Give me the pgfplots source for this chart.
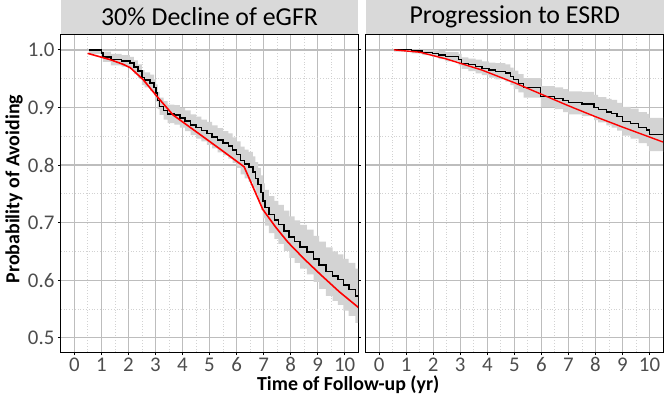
\documentclass[border=0pt]{standalone}
\usepackage{fontspec}
\setmainfont{Carlito}
\usepackage{pgfplots}
\pgfplotsset{compat=1.18}
\usepgfplotslibrary{fillbetween}
\usepackage{pgfplotstable}
\definecolor{gridmaj}{HTML}{BDBDBD}
\definecolor{gridmin}{HTML}{D2D2D2}
\definecolor{tickgray}{HTML}{4D4D4D}
\definecolor{bandgray}{HTML}{D3D3D3}
\definecolor{stripgray}{HTML}{D9D9D9}

\pgfplotstableread{
t s lo hi
0.55 1.000 0.993 1.000
1.00 0.995 0.988 1.000
1.05 0.988 0.979 0.997
1.35 0.983 0.973 0.993
1.75 0.981 0.971 0.991
2.05 0.977 0.966 0.988
2.20 0.970 0.958 0.982
2.35 0.963 0.951 0.975
2.50 0.952 0.939 0.965
2.60 0.948 0.935 0.961
2.80 0.943 0.929 0.957
2.95 0.935 0.921 0.949
3.02 0.925 0.910 0.940
3.08 0.912 0.897 0.927
3.15 0.902 0.887 0.917
3.30 0.895 0.879 0.911
3.45 0.889 0.873 0.905
3.70 0.887 0.870 0.904
3.90 0.882 0.865 0.899
4.10 0.877 0.859 0.895
4.30 0.870 0.852 0.888
4.50 0.865 0.846 0.884
4.70 0.860 0.841 0.879
4.90 0.855 0.835 0.875
5.10 0.849 0.829 0.869
5.30 0.843 0.822 0.864
5.50 0.838 0.817 0.859
5.70 0.833 0.811 0.855
5.85 0.826 0.804 0.848
6.00 0.818 0.795 0.841
6.15 0.808 0.784 0.832
6.30 0.802 0.777 0.827
6.45 0.797 0.771 0.823
6.60 0.788 0.761 0.815
6.70 0.777 0.749 0.805
6.80 0.766 0.737 0.795
6.90 0.752 0.722 0.782
6.97 0.738 0.708 0.768
7.05 0.726 0.695 0.757
7.20 0.714 0.682 0.746
7.40 0.705 0.672 0.738
7.55 0.697 0.663 0.731
7.75 0.686 0.651 0.721
7.95 0.675 0.639 0.711
8.15 0.667 0.630 0.704
8.35 0.658 0.620 0.696
8.60 0.649 0.610 0.688
8.85 0.637 0.597 0.677
9.05 0.626 0.585 0.667
9.30 0.615 0.573 0.657
9.55 0.607 0.564 0.650
9.75 0.601 0.557 0.645
9.95 0.592 0.547 0.637
10.15 0.584 0.538 0.630
10.40 0.573 0.526 0.620
10.50 0.573 0.526 0.620
}\leftkm

\pgfplotstableread{
t s
0.49 0.994
1.33 0.983
1.80 0.975
2.07 0.969
2.55 0.948
3.06 0.919
3.65 0.887
4.65 0.853
5.50 0.824
6.28 0.797
6.97 0.723
7.45 0.692
7.90 0.666
8.50 0.637
9.08 0.611
9.80 0.580
10.50 0.553
}\leftfit

\pgfplotstableread{
t s lo hi
0.55 1.000 0.997 1.000
1.20 0.998 0.994 1.000
1.60 0.996 0.991 1.000
1.96 0.994 0.988 1.000
2.20 0.991 0.984 0.998
2.45 0.988 0.980 0.996
2.94 0.983 0.973 0.993
3.05 0.977 0.967 0.987
3.30 0.974 0.963 0.985
3.57 0.971 0.959 0.983
3.80 0.968 0.956 0.980
4.06 0.965 0.952 0.978
4.30 0.963 0.949 0.977
4.67 0.960 0.945 0.975
4.85 0.954 0.939 0.969
4.97 0.948 0.932 0.964
5.15 0.942 0.926 0.958
5.34 0.934 0.917 0.951
5.98 0.919 0.901 0.937
6.50 0.916 0.897 0.935
6.80 0.912 0.892 0.932
7.00 0.908 0.888 0.928
7.50 0.906 0.885 0.927
7.95 0.900 0.878 0.922
8.10 0.896 0.874 0.918
8.40 0.892 0.869 0.915
8.60 0.889 0.865 0.913
8.80 0.884 0.860 0.908
9.00 0.876 0.851 0.901
9.30 0.872 0.846 0.898
9.60 0.865 0.838 0.892
9.90 0.861 0.833 0.889
10.00 0.853 0.824 0.882
10.50 0.853 0.823 0.883
}\rightkm

\pgfplotstableread{
t s
0.55 1.000
1.50 0.996
2.50 0.984
3.80 0.965
5.00 0.943
6.00 0.923
7.00 0.903
8.00 0.884
9.00 0.866
10.50 0.840
}\rightfit

\pgfplotsset{panel/.style={
  scale only axis, width=298bp, height=318bp,
  xmin=-0.5, xmax=10.5, ymin=0.475, ymax=1.026,
  xtick={0,1,2,3,4,5,6,7,8,9,10},
  minor xtick={0.5,1.5,2.5,3.5,4.5,5.5,6.5,7.5,8.5,9.5},
  ytick={0.5,0.6,0.7,0.8,0.9,1.0},
  minor ytick={0.55,0.65,0.75,0.85,0.95},
  grid=both,
  major grid style={gridmaj, line width=1.3bp},
  minor grid style={gridmin, line width=0.8bp, dotted},
  axis line style={black, line width=1bp},
  tick style={black, line width=0.8bp},
  tick align=outside, major tick length=3bp, minor tick length=0pt,
  ticklabel style={font=\fontsize{21}{21}\selectfont, text=tickgray},
  /pgf/number format/assume math mode=true,
  yticklabel style={/pgf/number format/.cd, fixed, fixed zerofill, precision=1},
  xticklabel style={yshift=1bp},
}}

\begin{document}
\begin{tikzpicture}
\path (0,0) rectangle (666bp,398bp);
\begin{axis}[panel, at={(61bp,45bp)}, anchor=south west]
  \addplot[const plot, draw=none, name path=llo] table[x=t,y=lo]{\leftkm};
  \addplot[const plot, draw=none, name path=lhi] table[x=t,y=hi]{\leftkm};
  \addplot[bandgray] fill between[of=lhi and llo];
  \addplot[const plot, black, line width=1.6bp] table[x=t,y=s]{\leftkm};
  \addplot[red, line width=1.6bp] table[x=t,y=s]{\leftfit};
\end{axis}
\begin{axis}[panel, at={(366.5bp,45bp)}, anchor=south west,
  yticklabels={}, ytick style={draw=none}]
  \addplot[const plot, draw=none, name path=rlo] table[x=t,y=lo]{\rightkm};
  \addplot[const plot, draw=none, name path=rhi] table[x=t,y=hi]{\rightkm};
  \addplot[bandgray] fill between[of=rhi and rlo];
  \addplot[const plot, black, line width=1.2bp] table[x=t,y=s]{\rightkm};
  \addplot[red, line width=1.4bp] table[x=t,y=s]{\rightfit};
\end{axis}
\fill[stripgray] (61bp,364bp) rectangle (359bp,398bp);
\fill[stripgray] (366.5bp,364bp) rectangle (665.5bp,398bp);
\node[font=\fontsize{26}{26}\selectfont] at (210bp,381bp) {30\% Decline of eGFR};
\node[font=\fontsize{26}{26}\selectfont] at (516bp,381bp) {Progression to ESRD};
\node[font=\fontsize{20}{20}\selectfont\bfseries, anchor=base] at (349bp,7bp) {Time of Follow-up (yr)};
\node[font=\fontsize{20}{20}\selectfont\bfseries, rotate=90] at (14bp,208.5bp) {Probability of Avoiding};
\end{tikzpicture}
\end{document}
